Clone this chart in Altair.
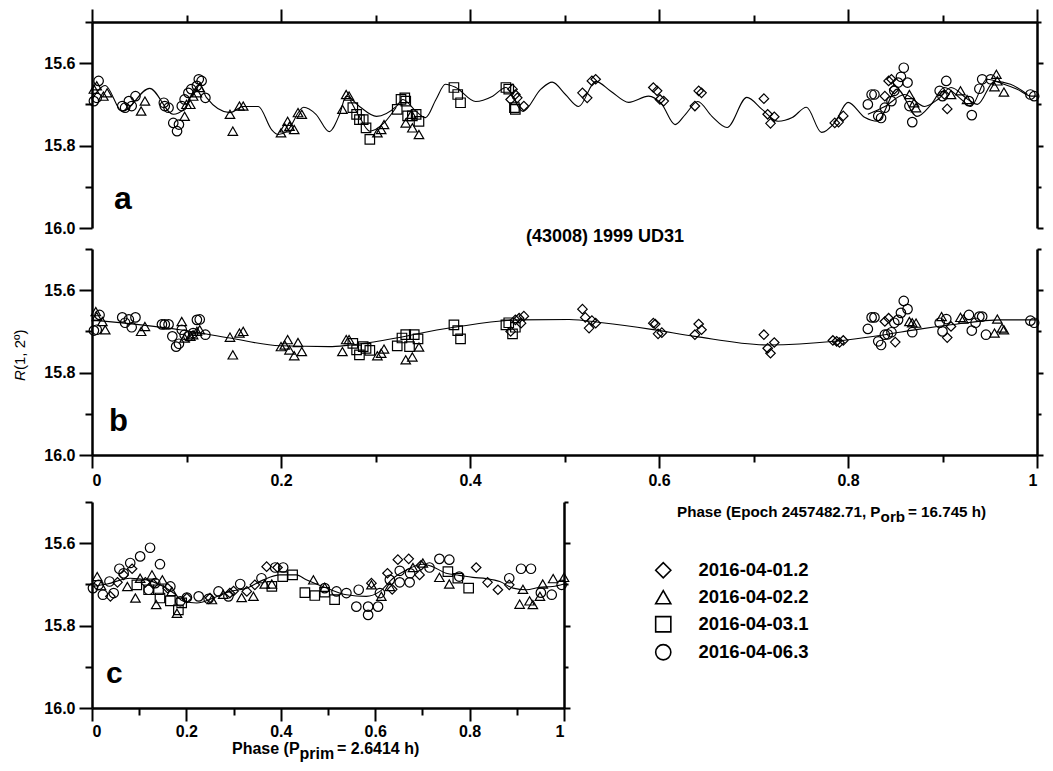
import altair as alt
import pandas as pd

FONT = "Liberation Sans"
NIGHTS = ["2016-04-01.2", "2016-04-02.2", "2016-04-03.1", "2016-04-06.3"]
SHAPES = ["diamond", "triangle-up", "square", "circle"]

# ---------------- panel a : observed points (orbital phase) ----------------
A_N1 = [(0.443,15.688),(0.445,15.663),(0.448,15.676),(0.450,15.684),(0.457,15.704),(0.519,15.672),
        (0.524,15.684),(0.529,15.643),(0.533,15.639),(0.594,15.659),(0.598,15.667),(0.601,15.688),
        (0.605,15.692),(0.638,15.704),(0.642,15.667),(0.645,15.672),(0.711,15.686),(0.715,15.724),
        (0.718,15.746),(0.722,15.730),(0.786,15.745),(0.790,15.743),(0.795,15.728),(0.839,15.680),
        (0.843,15.643),(0.846,15.639),(0.849,15.663),(0.902,15.676),(0.905,15.711)]
A_N2 = [(0.002,15.663),(0.005,15.655),(0.012,15.680),(0.016,15.672),(0.052,15.716),(0.056,15.692),
        (0.098,15.729),(0.100,15.700),(0.104,15.700),(0.107,15.680),(0.111,15.672),(0.114,15.659),
        (0.146,15.724),(0.149,15.765),(0.156,15.704),(0.160,15.704),(0.200,15.769),(0.204,15.757),
        (0.207,15.741),(0.209,15.753),(0.214,15.761),(0.218,15.720),(0.222,15.724),(0.265,15.712),
        (0.269,15.676),(0.272,15.680),(0.302,15.769),(0.306,15.761),(0.309,15.749),(0.332,15.745),
        (0.338,15.724),(0.339,15.757),(0.346,15.773),(0.865,15.676),(0.870,15.696),(0.872,15.708),
        (0.909,15.676),(0.919,15.667),(0.926,15.688),(0.955,15.657),(0.957,15.627),(0.958,15.643),
        (0.965,15.670)]
A_N3 = [(0.276,15.708),(0.280,15.724),(0.283,15.737),(0.287,15.737),(0.290,15.757),(0.294,15.785),
        (0.323,15.712),(0.327,15.688),(0.331,15.684),(0.332,15.692),(0.334,15.728),(0.339,15.728),
        (0.343,15.724),(0.346,15.741),(0.383,15.659),(0.387,15.676),(0.390,15.696),(0.438,15.659),
        (0.441,15.663),(0.447,15.708),(0.448,15.712)]
A_N4 = [(0.002,15.692),(0.005,15.684),(0.007,15.643),(0.032,15.704),(0.035,15.708),(0.039,15.692),
        (0.042,15.704),(0.046,15.680),(0.076,15.696),(0.077,15.704),(0.081,15.708),(0.086,15.745),
        (0.090,15.765),(0.092,15.749),(0.095,15.704),(0.098,15.688),(0.102,15.672),(0.105,15.663),
        (0.111,15.655),(0.113,15.639),(0.116,15.643),(0.120,15.684),(0.821,15.700),(0.825,15.676),
        (0.828,15.676),(0.832,15.728),(0.835,15.733),(0.839,15.708),(0.846,15.692),(0.849,15.667),
        (0.853,15.647),(0.856,15.633),(0.859,15.611),(0.863,15.647),(0.865,15.704),(0.868,15.743),
        (0.897,15.667),(0.900,15.680),(0.904,15.643),(0.928,15.692),(0.931,15.726),(0.939,15.662),
        (0.942,15.639),(0.951,15.639),(0.993,15.676),(0.997,15.680)]

# model curve of panel a (main trace and the two extra night traces)
CURVE_A_MAIN = [(0.000,15.688),(0.014,15.654),(0.032,15.717),(0.061,15.661),(0.086,15.724),(0.097,15.712),
        (0.111,15.656),(0.114,15.651),(0.121,15.683),(0.146,15.720),(0.160,15.705),(0.176,15.705),
        (0.190,15.761),(0.197,15.773),(0.206,15.766),(0.224,15.707),(0.237,15.724),(0.251,15.766),
        (0.262,15.724),(0.269,15.680),(0.283,15.705),(0.301,15.729),(0.322,15.705),(0.329,15.688),
        (0.343,15.717),(0.353,15.732),(0.364,15.688),(0.374,15.651),(0.385,15.659),(0.406,15.693),
        (0.424,15.680),(0.438,15.659),(0.456,15.717),(0.475,15.663),(0.487,15.646),(0.501,15.676),
        (0.515,15.705),(0.533,15.644),(0.549,15.668),(0.568,15.695),(0.589,15.680),(0.603,15.700),
        (0.617,15.749),(0.628,15.724),(0.641,15.693),(0.656,15.729),(0.672,15.756),(0.693,15.683),
        (0.709,15.712),(0.726,15.741),(0.741,15.732),(0.756,15.707),(0.772,15.768),(0.786,15.744),
        (0.800,15.695),(0.818,15.732),(0.831,15.741),(0.852,15.663),(0.873,15.729),(0.888,15.700),
        (0.902,15.659),(0.920,15.688),(0.930,15.705),(0.947,15.639),(0.965,15.651),(0.979,15.663),
        (0.994,15.680),(1.000,15.680)]
CURVE_A_N3 = [(0.273,15.688),(0.283,15.730),(0.294,15.765),(0.309,15.745),(0.322,15.707)]
CURVE_A_N4 = [(0.821,15.724),(0.839,15.705),(0.860,15.676),(0.881,15.705),(0.895,15.688),(0.909,15.659),
        (0.927,15.688),(0.937,15.700),(0.955,15.644),(0.972,15.651),(0.990,15.676)]

# ---------------- panel b : orbital component ----------------
B_N1 = [(0.443,15.700),(0.448,15.672),(0.452,15.668),(0.454,15.680),(0.457,15.663),(0.519,15.646),
        (0.522,15.666),(0.526,15.692),(0.529,15.674),(0.533,15.680),(0.594,15.680),(0.596,15.682),
        (0.599,15.706),(0.603,15.703),(0.638,15.708),(0.642,15.682),(0.645,15.696),(0.711,15.708),
        (0.715,15.741),(0.718,15.753),(0.722,15.727),(0.784,15.722),(0.788,15.724),(0.791,15.727),
        (0.795,15.722),(0.839,15.676),(0.843,15.668),(0.850,15.726),(0.905,15.715),(0.909,15.688)]
B_N2 = [(0.004,15.652),(0.005,15.664),(0.011,15.676),(0.014,15.696),(0.052,15.700),(0.056,15.688),
        (0.095,15.676),(0.098,15.716),(0.104,15.712),(0.107,15.708),(0.111,15.700),(0.114,15.696),
        (0.146,15.714),(0.149,15.757),(0.156,15.704),(0.160,15.700),(0.200,15.737),(0.204,15.733),
        (0.207,15.720),(0.209,15.745),(0.214,15.759),(0.218,15.727),(0.222,15.749),(0.265,15.749),
        (0.269,15.720),(0.272,15.720),(0.302,15.759),(0.306,15.753),(0.309,15.743),(0.332,15.769),
        (0.339,15.762),(0.346,15.738),(0.865,15.676),(0.868,15.679),(0.872,15.680),(0.899,15.664),
        (0.919,15.666),(0.922,15.670),(0.955,15.704),(0.958,15.670),(0.963,15.692),(0.965,15.696)]
B_N3 = [(0.276,15.729),(0.280,15.745),(0.283,15.757),(0.287,15.737),(0.290,15.741),(0.294,15.746),
        (0.323,15.735),(0.328,15.716),(0.332,15.708),(0.336,15.737),(0.341,15.708),(0.345,15.718),
        (0.383,15.684),(0.387,15.698),(0.390,15.718),(0.438,15.684),(0.441,15.679),(0.445,15.706),
        (0.448,15.690)]
B_N4 = [(0.002,15.698),(0.005,15.696),(0.008,15.660),(0.032,15.666),(0.035,15.679),(0.039,15.671),
        (0.042,15.690),(0.046,15.666),(0.074,15.683),(0.077,15.683),(0.081,15.683),(0.085,15.712),
        (0.089,15.737),(0.092,15.730),(0.095,15.696),(0.098,15.708),(0.102,15.712),(0.107,15.704),
        (0.111,15.672),(0.114,15.671),(0.120,15.708),(0.821,15.694),(0.825,15.666),(0.828,15.666),
        (0.832,15.724),(0.835,15.733),(0.839,15.708),(0.842,15.707),(0.846,15.702),(0.849,15.679),
        (0.853,15.672),(0.856,15.655),(0.859,15.626),(0.863,15.646),(0.868,15.702),(0.897,15.679),
        (0.900,15.700),(0.904,15.670),(0.928,15.660),(0.931,15.698),(0.935,15.679),(0.939,15.664),
        (0.942,15.664),(0.946,15.708),(0.993,15.674),(0.997,15.679)]
CURVE_B = [(0.000,15.672),(0.093,15.696),(0.146,15.716),(0.199,15.735),(0.251,15.737),(0.270,15.734),
        (0.294,15.727),(0.383,15.690),(0.452,15.672),(0.505,15.671),(0.540,15.679),(0.592,15.695),
        (0.638,15.712),(0.716,15.733),(0.786,15.724),(0.839,15.708),(0.874,15.695),(0.909,15.684),
        (0.962,15.672),(1.000,15.672)]

# ---------------- panel c : primary rotation ----------------
C_N1 = [(0.039,15.729),(0.054,15.695),(0.067,15.677),(0.085,15.662),(0.113,15.695),(0.130,15.699),
        (0.160,15.709),(0.201,15.733),(0.250,15.733),(0.292,15.721),(0.300,15.716),(0.328,15.717),
        (0.345,15.701),(0.370,15.657),(0.393,15.659),(0.592,15.697),(0.626,15.673),(0.636,15.712),
        (0.648,15.640),(0.671,15.638),(0.694,15.677),(0.697,15.654),(0.814,15.659),(0.838,15.695),
        (0.860,15.713),(0.884,15.701)]
C_N2 = [(0.011,15.681),(0.019,15.703),(0.075,15.705),(0.092,15.733),(0.102,15.685),(0.127,15.677),
        (0.136,15.749),(0.149,15.689),(0.169,15.717),(0.180,15.770),(0.254,15.737),(0.278,15.724),
        (0.317,15.732),(0.342,15.729),(0.366,15.699),(0.381,15.699),(0.469,15.689),(0.493,15.707),
        (0.592,15.701),(0.613,15.729),(0.631,15.705),(0.680,15.659),(0.701,15.648),(0.736,15.683),
        (0.757,15.699),(0.906,15.748),(0.913,15.712),(0.927,15.740),(0.934,15.749),(0.949,15.729),
        (0.955,15.699),(0.977,15.686),(1.000,15.683)]
C_N3 = [(0.095,15.701),(0.120,15.713),(0.141,15.713),(0.144,15.733),(0.166,15.740),(0.183,15.762),
        (0.190,15.745),(0.381,15.705),(0.404,15.681),(0.425,15.677),(0.451,15.720),(0.472,15.727),
        (0.493,15.719),(0.514,15.737),(0.754,15.669),(0.775,15.685),(0.798,15.709)]
C_N4 = [(0.002,15.709),(0.014,15.701),(0.023,15.725),(0.037,15.693),(0.046,15.721),(0.058,15.662),
        (0.067,15.673),(0.081,15.648),(0.102,15.632),(0.123,15.611),(0.144,15.651),(0.120,15.713),
        (0.134,15.697),(0.166,15.705),(0.187,15.741),(0.201,15.732),(0.226,15.729),(0.247,15.735),
        (0.268,15.717),(0.289,15.729),(0.314,15.699),(0.359,15.685),(0.388,15.659),(0.405,15.659),
        (0.493,15.709),(0.518,15.717),(0.539,15.721),(0.560,15.754),(0.565,15.713),(0.585,15.754),
        (0.585,15.774),(0.606,15.754),(0.610,15.721),(0.631,15.689),(0.652,15.695),(0.652,15.667),
        (0.673,15.695),(0.674,15.673),(0.715,15.659),(0.736,15.638),(0.757,15.640),(0.778,15.681),
        (0.884,15.685),(0.909,15.662),(0.930,15.662),(0.951,15.720),(0.974,15.725),(0.995,15.701)]
CURVE_C = [(0.000,15.705),(0.032,15.699),(0.081,15.685),(0.116,15.689),(0.144,15.701),(0.173,15.721),
        (0.194,15.741),(0.222,15.745),(0.257,15.733),(0.292,15.717),(0.328,15.709),(0.363,15.689),
        (0.398,15.677),(0.433,15.677),(0.454,15.689),(0.497,15.709),(0.539,15.725),(0.581,15.729),
        (0.610,15.717),(0.638,15.685),(0.666,15.665),(0.701,15.651),(0.722,15.657),(0.750,15.673),
        (0.778,15.678),(0.807,15.683),(0.835,15.686),(0.864,15.693),(0.892,15.709),(0.920,15.713),
        (0.948,15.707),(0.976,15.705),(1.000,15.699)]

X_TICKS = [round(i * 0.1, 1) for i in range(11)]
Y_TICKS = [15.5, 15.6, 15.7, 15.8, 15.9, 16.0]


def points_df(groups):
    rows = []
    for night, pts in zip(NIGHTS, groups):
        for ph, m in pts:
            rows.append({"phase": ph, "mag": m, "night": night})
    return pd.DataFrame(rows)


def curve_df(segments):
    rows = []
    for k, seg in enumerate(segments):
        for ph, m in seg:
            rows.append({"phase": ph, "mag": m, "seg": k})
    return pd.DataFrame(rows)


MAJOR = "round(datum.value * 10) % 2 == 0"
XS = alt.Scale(domain=[0, 1], nice=False, zero=False)
YS = alt.Scale(domain=[15.5, 16.0], reverse=True, nice=False, zero=False)
SHAPE_SCALE = alt.Scale(domain=NIGHTS, range=SHAPES)


def ax_style(major, minor, pad):
    return dict(grid=False, title=None, domainColor="black", domainWidth=2.5, tickColor="black",
                tickWidth=2, labelFont=FONT, labelFontSize=16, labelFontWeight="bold",
                labelColor="black", labelPadding=pad,
                tickSize={"condition": {"test": MAJOR, "value": major}, "value": minor})


def x_axis(orient, labels, pad):
    return alt.Axis(orient=orient, values=X_TICKS, labels=labels,
                    labelExpr=MAJOR + " ? (datum.value == 0 ? '0' : datum.value == 1 ? '1' : format(datum.value, '.1f')) : ''",
                    **ax_style(13, 7, pad))


def y_axis(orient, labels):
    if orient == "right":
        st = ax_style(6, 4, 3)
    else:
        st = ax_style(13, 7, 4)
    return alt.Axis(orient=orient, values=Y_TICKS, labels=labels,
                    labelExpr=MAJOR + " ? format(datum.value, '.1f') : ''", **st)


def text(label, x, y, size, weight="bold", style="normal", align="left", baseline="alphabetic", angle=0):
    return alt.Chart(pd.DataFrame({"t": [label]})).mark_text(
        font=FONT, fontSize=size, fontWeight=weight, fontStyle=style, align=align,
        baseline=baseline, angle=angle, color="black").encode(
        text="t:N", x=alt.value(x), y=alt.value(y))


def panel(pts, curve, width, x_orient, x_labels, x_pad, legend, extra):
    xa = x_axis(x_orient, x_labels, x_pad)
    line = alt.Chart(curve).mark_line(color="black", strokeWidth=1.1, interpolate="monotone").encode(
        x=alt.X("phase:Q", scale=XS, axis=xa),
        y=alt.Y("mag:Q", scale=YS, axis=y_axis("right", False)),
        detail="seg:N")
    dots = alt.Chart(pts).mark_point(filled=False, color="black", strokeWidth=1.2, size=90, opacity=1).encode(
        x=alt.X("phase:Q", scale=XS, axis=xa),
        y=alt.Y("mag:Q", scale=YS, axis=y_axis("left", True)),
        shape=alt.Shape("night:N", scale=SHAPE_SCALE, legend=legend))
    return alt.layer(line, dots, *extra).resolve_axis(y="independent").properties(width=width, height=206)


W_AB = 945
W_C = 472

pa = panel(points_df([A_N1, A_N2, A_N3, A_N4]), curve_df([CURVE_A_MAIN, CURVE_A_N3, CURVE_A_N4]),
           W_AB, "top", False, 4, None,
           [text("a", 22, 187, 32), text("(43008) 1999 UD31", 513, 215, 18, align="center", baseline="middle")])

pb = panel(points_df([B_N1, B_N2, B_N3, B_N4]), curve_df([CURVE_B]), W_AB, "bottom", True, 4, None,
           [text("b", 17, 182, 31),
            text("R", -72, 132, 15, weight="normal", style="italic", baseline="middle", angle=270),
            text("(1, 2º)", -72, 121, 15, weight="normal", baseline="middle", angle=270)])

legend_c = alt.Legend(orient="none", legendX=562, legendY=59, title=None, padding=0,
                      symbolSize=230, symbolStrokeWidth=1.6, symbolStrokeColor="black",
                      labelFont=FONT, labelFontSize=18.5, labelFontWeight="bold", labelColor="black",
                      labelOffset=26, rowPadding=5)

pc = panel(points_df([C_N1, C_N2, C_N3, C_N4]), curve_df([CURVE_C]), W_C, "bottom", True, 2, legend_c,
           [text("c", 14, 181, 30),
            text("Phase (P", 140, 252, 16),
            text("prim", 207.6, 257, 16),
            text(" = 2.6414 h)", 245, 252, 16),
            text("Phase (Epoch 2457482.71, P", 585, 15, 15.2),
            text("orb", 788.6, 20, 15.2),
            text(" = 16.745 h)", 816, 15, 15.2)])

spacer = alt.Chart(pd.DataFrame({"v": [0]})).mark_point(opacity=0).encode(
    x=alt.value(0), y=alt.value(0)).properties(width=1, height=5)

chart = alt.vconcat(pa, pb, spacer, pc, spacing=21, bounds="flush").resolve_legend(
    shape="independent").properties(
    padding={"left": 5, "top": 0, "right": 0, "bottom": 0}).configure_view(stroke=None)

chart.save("out.html", embed_options={"renderer": "svg", "actions": False})
